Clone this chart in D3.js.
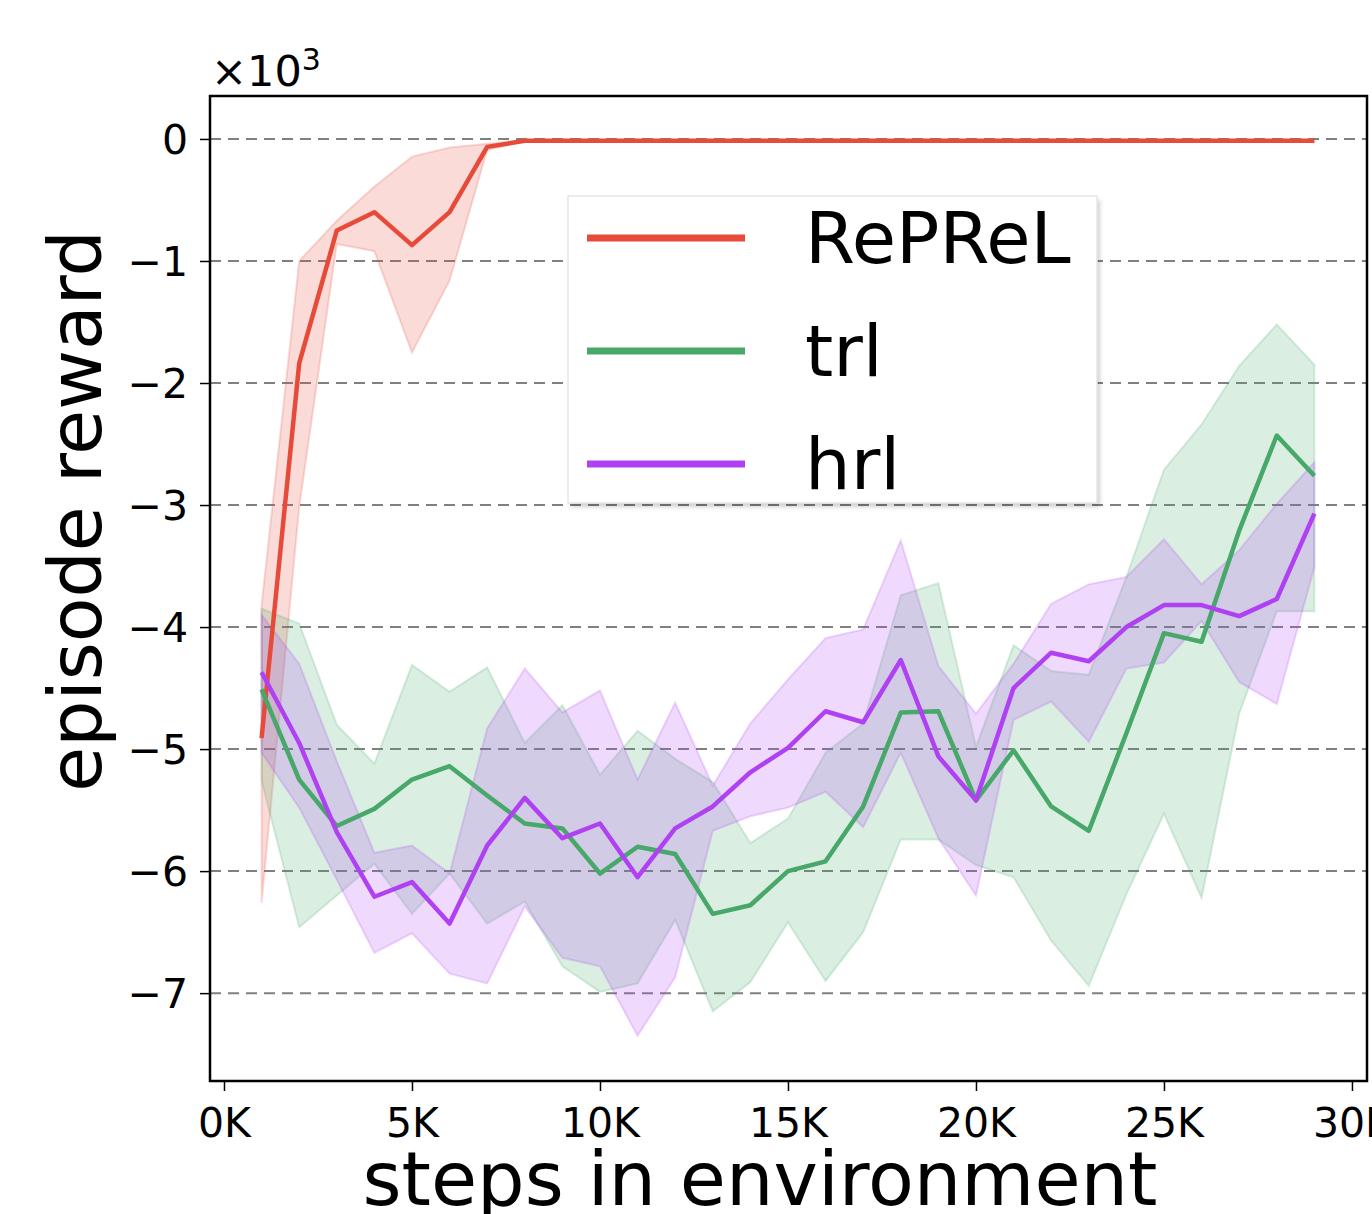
<!DOCTYPE html>
<html>
<head>
<meta charset="utf-8">
<script src="https://cdn.jsdelivr.net/npm/d3@7"></script>
<style>
  body { margin: 0; background: #fff; }
  svg { display: block; font-family: "DejaVu Sans", sans-serif; }
</style>
</head>
<body>
<div id="chart"></div>
<script>
// steps in environment
const steps = [1000, 2000, 3000, 4000, 5000, 6000, 7000, 8000, 9000, 10000,
  11000, 12000, 13000, 14000, 15000, 16000, 17000, 18000, 19000, 20000,
  21000, 22000, 23000, 24000, 25000, 26000, 27000, 28000, 29000]

// episode reward, in units of 10^3
const reprel_mean = [-4.91, -1.84, -0.75, -0.60, -0.87, -0.60, -0.065, -0.015, -0.015, -0.015,
  -0.015, -0.015, -0.015, -0.015, -0.015, -0.015, -0.015, -0.015, -0.015, -0.015,
  -0.015, -0.015, -0.015, -0.015, -0.015, -0.015, -0.015, -0.015, -0.015]
const reprel_upper = [-3.82, -1.00, -0.67, -0.39, -0.145, -0.07, -0.04, -0.01, -0.01, -0.01,
  -0.01, -0.01, -0.01, -0.01, -0.01, -0.01, -0.01, -0.01, -0.01, -0.01,
  -0.01, -0.01, -0.01, -0.01, -0.01, -0.01, -0.01, -0.01, -0.01]
const reprel_lower = [-6.26, -3.02, -0.86, -0.92, -1.75, -1.16, -0.09, -0.02, -0.02, -0.02,
  -0.02, -0.02, -0.02, -0.02, -0.02, -0.02, -0.02, -0.02, -0.02, -0.02,
  -0.02, -0.02, -0.02, -0.02, -0.02, -0.02, -0.02, -0.02, -0.02]

const trl_mean = [-4.51, -5.25, -5.63, -5.49, -5.25, -5.14, -5.38, -5.61, -5.65, -6.02,
  -5.80, -5.86, -6.35, -6.28, -6.00, -5.92, -5.47, -4.70, -4.69, -5.42,
  -5.01, -5.47, -5.67, -4.87, -4.05, -4.12, -3.21, -2.43, -2.76]
const trl_upper = [-3.85, -3.97, -4.80, -5.12, -4.31, -4.53, -4.33, -4.95, -4.64, -5.21,
  -4.85, -5.08, -5.27, -5.77, -5.57, -5.03, -4.79, -3.74, -3.64, -4.98,
  -4.15, -4.36, -4.39, -3.59, -2.71, -2.34, -1.86, -1.52, -1.85]
const trl_lower = [-5.26, -6.46, -6.20, -5.94, -6.35, -6.02, -6.43, -6.25, -6.78, -6.99,
  -6.92, -6.40, -7.15, -6.91, -6.42, -6.90, -6.50, -5.74, -5.74, -5.95,
  -6.05, -6.57, -6.94, -6.19, -5.53, -6.22, -4.71, -3.87, -3.87]

const hrl_mean = [-4.37, -4.95, -5.68, -6.21, -6.09, -6.43, -5.79, -5.40, -5.73, -5.61,
  -6.05, -5.65, -5.47, -5.19, -4.99, -4.69, -4.78, -4.27, -5.06, -5.42,
  -4.50, -4.21, -4.28, -4.00, -3.82, -3.82, -3.91, -3.77, -3.07]
const hrl_upper = [-3.90, -4.30, -5.10, -5.85, -5.79, -6.02, -4.83, -4.34, -4.70, -4.52,
  -5.25, -4.62, -5.30, -4.79, -4.43, -4.09, -4.02, -3.29, -4.32, -4.71,
  -4.30, -3.81, -3.65, -3.59, -3.28, -3.65, -3.37, -2.99, -2.65]
const hrl_lower = [-5.03, -5.48, -6.07, -6.67, -6.51, -6.84, -6.92, -6.29, -6.71, -6.78,
  -7.35, -6.87, -5.67, -5.55, -5.48, -5.35, -5.64, -5.03, -5.73, -6.20,
  -4.76, -4.61, -4.94, -4.34, -4.29, -3.95, -4.45, -4.63, -3.51]

const series_names = ["RePReL", "trl", "hrl"]
const x_ticks = [0, 5000, 10000, 15000, 20000, 25000, 30000]
const y_ticks = [0, -1, -2, -3, -4, -5, -6, -7]

const series = [
  { name: series_names[0], color: "#e84a3a", mean: reprel_mean, upper: reprel_upper, lower: reprel_lower },
  { name: series_names[1], color: "#47a869", mean: trl_mean, upper: trl_upper, lower: trl_lower },
  { name: series_names[2], color: "#b041f3", mean: hrl_mean, upper: hrl_upper, lower: hrl_lower }
]

const width = 1372
const height = 1214
const plot = { left: 210, top: 96, right: 1367, bottom: 1081 }

const svg = d3.select("#chart")
  .append("svg")
  .attr("width", width)
  .attr("height", height)

const x = d3.scaleLinear().domain([-372, 30400]).range([plot.left, plot.right])
const y = d3.scaleLinear().domain([0.352, -7.72]).range([plot.top, plot.bottom])

// dashed horizontal grid
svg.append("g")
  .selectAll("line")
  .data(y_ticks)
  .join("line")
  .attr("x1", plot.left)
  .attr("x2", plot.right)
  .attr("y1", d => y(d))
  .attr("y2", d => y(d))
  .attr("stroke", "#808080")
  .attr("stroke-width", 2)
  .attr("stroke-dasharray", "11,7")

const clip = svg.append("clipPath").attr("id", "plot_clip")
clip.append("rect")
  .attr("x", plot.left).attr("y", plot.top)
  .attr("width", plot.right - plot.left).attr("height", plot.bottom - plot.top)

const marks = svg.append("g").attr("clip-path", "url(#plot_clip)")

const band = d3.area()
  .x((d, i) => x(steps[i]))
  .y0(d => y(d[0]))
  .y1(d => y(d[1]))

const line = d3.line()
  .x((d, i) => x(steps[i]))
  .y(d => y(d))

// shaded bands first, then mean lines
series.forEach(s => {
  marks.append("path")
    .datum(s.lower.map((v, i) => [v, s.upper[i]]))
    .attr("d", band)
    .attr("fill", s.color)
    .attr("fill-opacity", 0.2)
    .attr("stroke", s.color)
    .attr("stroke-opacity", 0.2)
    .attr("stroke-width", 2)
})

series.forEach(s => {
  marks.append("path")
    .datum(s.mean)
    .attr("d", line)
    .attr("fill", "none")
    .attr("stroke", s.color)
    .attr("stroke-width", 4.5)
    .attr("stroke-linejoin", "round")
})

// axes
const x_axis = svg.append("g")
  .attr("transform", `translate(0,${plot.bottom})`)
  .call(d3.axisBottom(x).tickValues(x_ticks).tickFormat(d => (d / 1000) + "K").tickSize(10))
x_axis.select(".domain").remove()
x_axis.selectAll("line").attr("stroke", "#000").attr("stroke-width", 1.5)
x_axis.selectAll("text")
  .attr("dy", null)
  .attr("y", 56)
  .attr("fill", "#000")
  .style("font-size", "41px")
  .style("font-family", "DejaVu Sans")

const y_axis = svg.append("g")
  .attr("transform", `translate(${plot.left},0)`)
  .call(d3.axisLeft(y).tickValues(y_ticks).tickFormat(d => d < 0 ? "\u2212" + Math.abs(d) : String(d)).tickSize(10).tickPadding(12))
y_axis.select(".domain").remove()
y_axis.selectAll("line").attr("stroke", "#000").attr("stroke-width", 1.5)
y_axis.selectAll("text")
  .attr("dy", "0.36em")
  .attr("fill", "#000")
  .style("font-size", "41px")
  .style("font-family", "DejaVu Sans")

// frame
svg.append("rect")
  .attr("x", plot.left)
  .attr("y", plot.top)
  .attr("width", plot.right - plot.left)
  .attr("height", plot.bottom - plot.top)
  .attr("fill", "none")
  .attr("stroke", "#000")
  .attr("stroke-width", 2.5)

// offset label
const offset = svg.append("text")
  .attr("x", 211)
  .attr("y", 86)
  .style("font-size", "43px")
  .text("\u00d710")
offset.append("tspan")
  .attr("dy", -16)
  .style("font-size", "30px")
  .text("3")

// axis labels
svg.append("text")
  .attr("x", 760)
  .attr("y", 1205)
  .attr("text-anchor", "middle")
  .style("font-size", "75px")
  .text("steps in environment")

svg.append("text")
  .attr("transform", "translate(101,511) rotate(-90)")
  .attr("text-anchor", "middle")
  .style("font-size", "73px")
  .text("episode reward")

// legend
const legend_box = { x: 568, y: 196, w: 529, h: 307 }
const legend = svg.append("g")

legend.append("rect")
  .attr("x", legend_box.x + 3)
  .attr("y", legend_box.y + 4)
  .attr("width", legend_box.w)
  .attr("height", legend_box.h)
  .attr("fill", "#000")
  .attr("fill-opacity", 0.18)
  .style("filter", "blur(2px)")

legend.append("rect")
  .attr("x", legend_box.x)
  .attr("y", legend_box.y)
  .attr("width", legend_box.w)
  .attr("height", legend_box.h)
  .attr("fill", "#fff")
  .attr("stroke", "#e6e6e6")
  .attr("stroke-width", 1.5)

const legend_row = d3.scalePoint().domain(series_names).range([238, 464])

series.forEach(s => {
  const ly = legend_row(s.name)
  legend.append("line")
    .attr("x1", 587)
    .attr("x2", 745)
    .attr("y1", ly)
    .attr("y2", ly)
    .attr("stroke", s.color)
    .attr("stroke-width", 7)
  legend.append("text")
    .attr("x", 805)
    .attr("y", ly + 25)
    .style("font-size", "72px")
    .text(s.name)
})
</script>
</body>
</html>
